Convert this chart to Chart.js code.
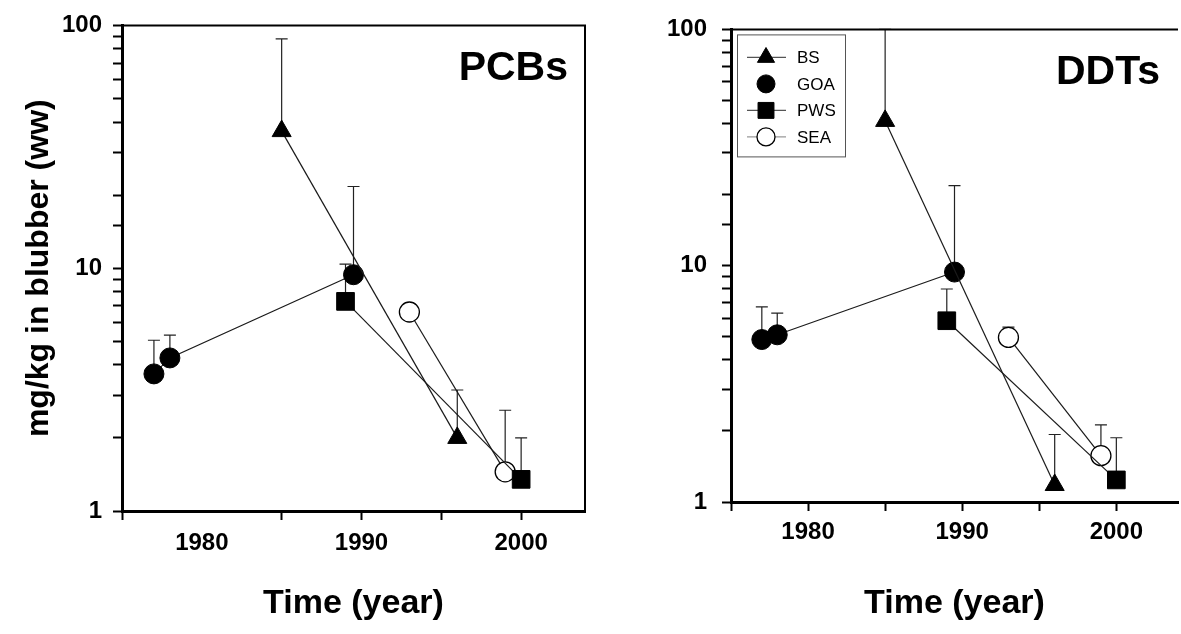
<!DOCTYPE html>
<html>
<head>
<meta charset="utf-8">
<script src="https://cdn.jsdelivr.net/npm/chart.js@4.4.1/dist/chart.umd.min.js"></script>
<style>
  html, body { margin: 0; padding: 0; background: #fff; }
  #wrap { position: relative; width: 1181px; height: 634px; overflow: hidden; }
  #pcb { position: absolute; left: 0; top: 0; }
  #ddt { position: absolute; left: 600px; top: 0; }
</style>
</head>
<body>
<div id="wrap">
  <canvas id="pcb" width="600" height="634"></canvas>
  <canvas id="ddt" width="596" height="634"></canvas>
</div>
<script>
// sampling years for each region
const bsYears = [1985, 1996];
const goaYears = [1977, 1978, 1989.5];
const pwsYears = [1989, 2000];
const seaYears = [1993, 1999];

// PCBs, mean and top of error bar (mg/kg ww)
const pcbBS = [36.7, 2.0];
const pcbBSTop = [88, 3.15];
const pcbGOA = [3.67, 4.27, 9.4];
const pcbGOATop = [5.05, 5.3, 21.7];
const pcbPWS = [7.3, 1.35];
const pcbPWSTop = [10.4, 2.0];
const pcbSEA = [6.6, 1.45];
const pcbSEATop = [null, 2.6];

// DDTs
const ddtBS = [41, 1.18];
const ddtBSTop = [100, 1.93];
const ddtGOA = [4.87, 5.1, 9.4];
const ddtGOATop = [6.7, 6.3, 21.8];
const ddtPWS = [5.85, 1.24];
const ddtPWSTop = [7.97, 1.87];
const ddtSEA = [4.97, 1.57];
const ddtSEATop = [5.5, 2.12];

const regions = ['BS', 'GOA', 'PWS', 'SEA'];
const yLabels = [1, 10, 100];
const xTicks = [1975, 1980, 1985, 1990, 1995, 2000];
const xLabels = [1980, 1990, 2000];

const FONT = "'Liberation Sans', Arial, sans-serif";
Chart.defaults.font.family = FONT;
Chart.defaults.color = '#000';

function pts(xs, ys) {
  return xs.map((x, i) => ({ x: x, y: ys[i] }));
}

function makeSets(bs, bsTop, goa, goaTop, pws, pwsTop, sea, seaTop) {
  const base = { showLine: true, borderColor: '#1a1a1a', borderWidth: 1.2,
                 pointBorderColor: '#000', pointBorderWidth: 1 };
  return [
    Object.assign({}, base, { label: regions[0], data: pts(bsYears, bs), tops: bsTop,
      pointStyle: 'triangle', pointRadius: 11, pointBackgroundColor: '#000', legendLine: '#555' }),
    Object.assign({}, base, { label: regions[1], data: pts(goaYears, goa), tops: goaTop,
      pointStyle: 'circle', pointRadius: 10, pointBackgroundColor: '#000', legendLine: null }),
    Object.assign({}, base, { label: regions[2], data: pts(pwsYears, pws), tops: pwsTop,
      pointStyle: 'rect', pointRadius: 12.5, pointBackgroundColor: '#000', legendLine: '#555' }),
    Object.assign({}, base, { label: regions[3], data: pts(seaYears, sea), tops: seaTop,
      pointStyle: 'circle', pointRadius: 10, pointBackgroundColor: '#fff', pointBorderWidth: 1.3, legendLine: '#999' })
  ];
}

const errorBars = {
  id: 'errorBars',
  beforeDatasetsDraw(chart) {
    const { ctx, scales: { x, y } } = chart;
    ctx.save();
    ctx.strokeStyle = '#222';
    ctx.lineWidth = 1.2;
    chart.data.datasets.forEach(ds => {
      (ds.tops || []).forEach((t, i) => {
        if (t == null) return;
        const px = x.getPixelForValue(ds.data[i].x);
        const y0 = y.getPixelForValue(ds.data[i].y);
        const y1 = y.getPixelForValue(t);
        ctx.beginPath();
        ctx.moveTo(px, y0);
        ctx.lineTo(px, y1);
        ctx.moveTo(px - 6, y1);
        ctx.lineTo(px + 6, y1);
        ctx.stroke();
      });
    });
    ctx.restore();
  }
};

// top (and right) edges of the plot box
const frame = {
  id: 'frame',
  afterDraw(chart, args, opts) {
    const { ctx, chartArea: a } = chart;
    ctx.save();
    ctx.strokeStyle = '#000';
    ctx.lineWidth = 2;
    ctx.beginPath();
    ctx.moveTo(a.left, a.top);
    ctx.lineTo(a.right, a.top);
    if (opts.right) ctx.lineTo(a.right, a.bottom);
    ctx.stroke();
    ctx.restore();
  }
};

const panelLabel = {
  id: 'panelLabel',
  afterDraw(chart, args, opts) {
    if (!opts.text) return;
    const { ctx, chartArea: a } = chart;
    ctx.save();
    ctx.font = 'bold 41px ' + FONT;
    ctx.fillStyle = '#000';
    ctx.textAlign = 'right';
    ctx.textBaseline = 'alphabetic';
    ctx.fillText(opts.text, opts.x, a.top + opts.dy);
    ctx.restore();
  }
};

const boxLegend = {
  id: 'boxLegend',
  afterDraw(chart, args, opts) {
    if (!opts.show) return;
    const { ctx, chartArea: a } = chart;
    const bx = a.left + 6, by = a.top + 5;
    ctx.save();
    ctx.fillStyle = '#fff';
    ctx.fillRect(bx, by, 108, 122);
    ctx.strokeStyle = '#555';
    ctx.lineWidth = 1;
    ctx.strokeRect(bx + 0.5, by + 0.5, 108, 122);
    ctx.font = '17px ' + FONT;
    ctx.textBaseline = 'middle';
    chart.data.datasets.forEach((ds, i) => {
      const cy = by + 23 + i * 26.5;
      if (ds.legendLine) {
        ctx.strokeStyle = ds.legendLine;
        ctx.lineWidth = 1.2;
        ctx.beginPath();
        ctx.moveTo(bx + 10, cy);
        ctx.lineTo(bx + 49, cy);
        ctx.stroke();
      }
      ctx.fillStyle = ds.pointBackgroundColor;
      ctx.strokeStyle = '#000';
      ctx.lineWidth = ds.pointBorderWidth;
      Chart.helpers.drawPoint(ctx, { pointStyle: ds.pointStyle, radius: ds.pointRadius * 0.9,
                                     borderWidth: ds.pointBorderWidth, rotation: 0 }, bx + 29, cy);
      ctx.fillStyle = '#000';
      ctx.fillText(ds.label, bx + 60, cy + 1);
    });
    ctx.restore();
  }
};

function makeChart(id, sets, o) {
  return new Chart(document.getElementById(id), {
    type: 'scatter',
    data: { datasets: sets },
    plugins: [errorBars, frame, panelLabel, boxLegend],
    options: {
      responsive: false,
      animation: false,
      events: [],
      layout: { padding: { top: o.top, right: o.right, left: 0, bottom: 0 } },
      plugins: {
        legend: { display: false },
        tooltip: { enabled: false },
        frame: { right: o.frameRight },
        panelLabel: { text: o.label, dy: o.labelDy, x: o.labelX },
        boxLegend: { show: o.legend }
      },
      scales: {
        x: {
          type: 'linear',
          min: 1975,
          max: 2004,
          afterFit: s => { s.height = o.xHeight; },
          afterBuildTicks: s => { s.ticks = xTicks.map(v => ({ value: v })); },
          border: { display: true, color: '#000', width: 3 },
          grid: {
            drawOnChartArea: false,
            tickLength: 9,
            tickWidth: 2,
            tickColor: c => (c.tick && o.hideTicks.includes(c.tick.value)) ? 'rgba(0,0,0,0)' : '#000'
          },
          ticks: {
            autoSkip: false,
            maxRotation: 0,
            padding: o.xPad,
            font: { size: 24, weight: 'bold' },
            callback: v => (xLabels.includes(v) ? String(v) : '')
          },
          title: {
            display: true,
            text: 'Time (year)',
            font: { size: 34, weight: 'bold' },
            padding: { top: 0, bottom: 10 }
          }
        },
        y: {
          type: 'logarithmic',
          min: 1,
          max: 100,
          afterFit: s => { s.width = o.yWidth; },
          border: { display: true, color: '#000', width: 3 },
          grid: {
            drawOnChartArea: false,
            tickLength: 9,
            tickWidth: 2,
            tickColor: '#000'
          },
          ticks: {
            autoSkip: false,
            padding: o.yPad,
            font: { size: 24, weight: 'bold' },
            callback: v => (yLabels.some(l => Math.abs(l - v) < 1e-6) ? String(Math.round(v)) : '')
          },
          title: {
            display: o.yTitle,
            text: 'mg/kg in blubber (ww)',
            font: { size: 32, weight: 'bold' },
            padding: { top: 20, bottom: 0 }
          }
        }
      }
    }
  });
}

makeChart('pcb',
  makeSets(pcbBS, pcbBSTop, pcbGOA, pcbGOATop, pcbPWS, pcbPWSTop, pcbSEA, pcbSEATop),
  { top: 19, right: 15, xHeight: 123, yWidth: 122, xPad: 9, yPad: 11, yTitle: true,
    label: 'PCBs', labelDy: 55, labelX: 568, legend: false, hideTicks: [1980], frameRight: true });

// the right panel runs past the page edge, as in the original figure
makeChart('ddt',
  makeSets(ddtBS, ddtBSTop, ddtGOA, ddtGOATop, ddtPWS, ddtPWSTop, ddtSEA, ddtSEATop),
  { top: 25, right: 18, xHeight: 132, yWidth: 131, xPad: 7, yPad: 15, yTitle: false,
    label: 'DDTs', labelDy: 55, labelX: 560, legend: true, hideTicks: [], frameRight: false });
</script>
</body>
</html>
